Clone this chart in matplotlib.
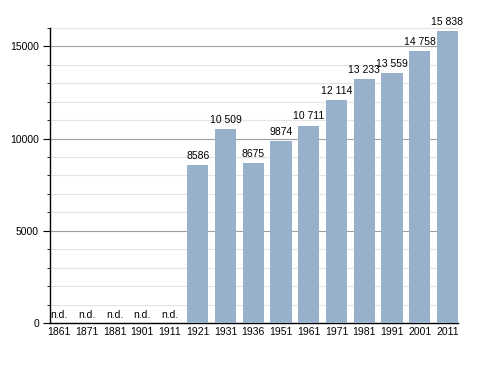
import matplotlib.pyplot as plt
from matplotlib.ticker import MultipleLocator

plt.rcParams["font.family"] = ["Liberation Sans", "DejaVu Sans"]

# Census years and population (None = no data)
years = ["1861", "1871", "1881", "1901", "1911", "1921", "1931", "1936",
         "1951", "1961", "1971", "1981", "1991", "2001", "2011"]
population = [None, None, None, None, None, 8586, 10509, 8675,
              9874, 10711, 12114, 13233, 13559, 14758, 15838]

bar_color = "#97b1cc"

fig = plt.figure(figsize=(4.88, 3.73), dpi=100)
ax = fig.add_axes([0.1025, 0.134, 0.836, 0.791])

x = list(range(len(years)))
heights = [v if v is not None else 0 for v in population]
ax.bar(x, heights, width=0.76, color=bar_color, zorder=3)

for i, v in enumerate(population):
    if v is None:
        ax.text(i, 150, "n.d.", ha="center", va="bottom", fontsize=7.5, zorder=4)
    else:
        label = f"{v:,}".replace(",", " ") if v >= 10000 else str(v)
        ax.text(i, v + 220, label, ha="center", va="bottom", fontsize=7.5, zorder=4)

ax.set_xlim(-0.325, 14.38)
ax.set_ylim(0, 16000)
ax.set_xticks(x)
ax.set_xticklabels(years, fontsize=7.5)
ax.tick_params(axis="x", length=0, pad=3)

ax.yaxis.set_major_locator(MultipleLocator(5000))
ax.yaxis.set_minor_locator(MultipleLocator(1000))
ax.tick_params(axis="y", which="major", length=5, labelsize=7.5, pad=3)
ax.tick_params(axis="y", which="minor", length=2.5)

ax.grid(axis="y", which="major", color="#a0a0a0", linewidth=0.8, zorder=0)
ax.grid(axis="y", which="minor", color="#e4e4e4", linewidth=0.8, zorder=0)

for side in ["top", "right"]:
    ax.spines[side].set_visible(False)
ax.spines["left"].set_linewidth(1)
ax.spines["bottom"].set_linewidth(1)

plt.savefig("out.png", dpi=100)
